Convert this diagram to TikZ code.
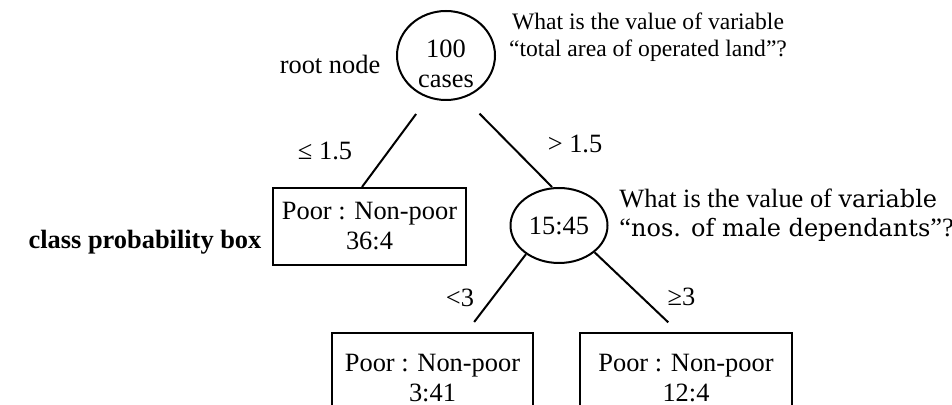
\documentclass[tikz,border=0pt]{standalone}
\usepackage{fontspec}
\setmainfont{Liberation Serif}
\newfontfamily\varfont{DejaVu Serif}
\usetikzlibrary{shapes.geometric}

\begin{document}
\begin{tikzpicture}[x=0.5pt,y=-0.5pt,
  every node/.style={font=\fontsize{13.2pt}{15pt}\selectfont},
  casenode/.style={draw,ellipse,line width=1pt,inner sep=0pt},
  probbox/.style={draw,rectangle,line width=1pt,align=center,inner sep=0pt,minimum height=38.5pt},
  branch/.style={line width=1pt},
  question/.style={inner sep=0pt}]
\clip (0,0) rectangle (952,405);
% decision nodes
\node[casenode,minimum width=49pt,minimum height=44.5pt] (root) at (446,55.5) {};
\node[align=center] (rootcount) at (446,64) {100\\cases};
\node[casenode,minimum width=48.5pt,minimum height=37.5pt] (split) at (559,225.5) {15:45};
% class probability boxes
\node[probbox,minimum width=96.5pt] (leafa) at (369.5,226.5) {Poor : Non-poor\\36:4};
\node[probbox,minimum width=100.5pt,minimum height=45pt] (leafb) at (432.5,378) {Poor : Non-poor\\3:41};
\node[probbox,minimum width=106pt,minimum height=45pt] (leafc) at (686,378) {Poor : Non-poor\\12:4};
% branches
\draw[branch,shorten <=10pt] (root.247) -- ([xshift=-3.75pt]leafa.north);
\draw[branch,shorten <=11pt] (root.293) -- ([xshift=-3.5pt]split.north);
\draw[branch,shorten >=6.3pt] (split.221) -- ([xshift=17pt]leafb.north);
\draw[branch,shorten >=7pt] (split.323) -- ([xshift=-3.8pt]leafc.north);
% labels
\node (rootlabel) at (330,64) {root node};
\node[question,align=center,anchor=north,font=\fontsize{11.8pt}{13.5pt}\selectfont] (q1) at (648,12) {What is the value of variable\\``total area of operated land''?};
\node[question,align=left,anchor=north west,font=\fontsize{13.2pt}{14.5pt}\selectfont] (q2) at (619,189) {What is the value of {\varfont\fontsize{12pt}{14.5pt}\selectfont variable}\\``{\varfont\fontsize{12pt}{14.5pt}\selectfont nos. of male dependants}''?};
\node[font=\fontsize{13.2pt}{15pt}\selectfont\bfseries] (boxlabel) at (145,242) {class probability box};
\node (lea) at (325,151) {≤ 1.5};
\node (gta) at (575,143.5) {> 1.5};
\node (ltb) at (460,297.5) {<3};
\node (geb) at (681.5,297) {≥3};
\end{tikzpicture}
\end{document}
